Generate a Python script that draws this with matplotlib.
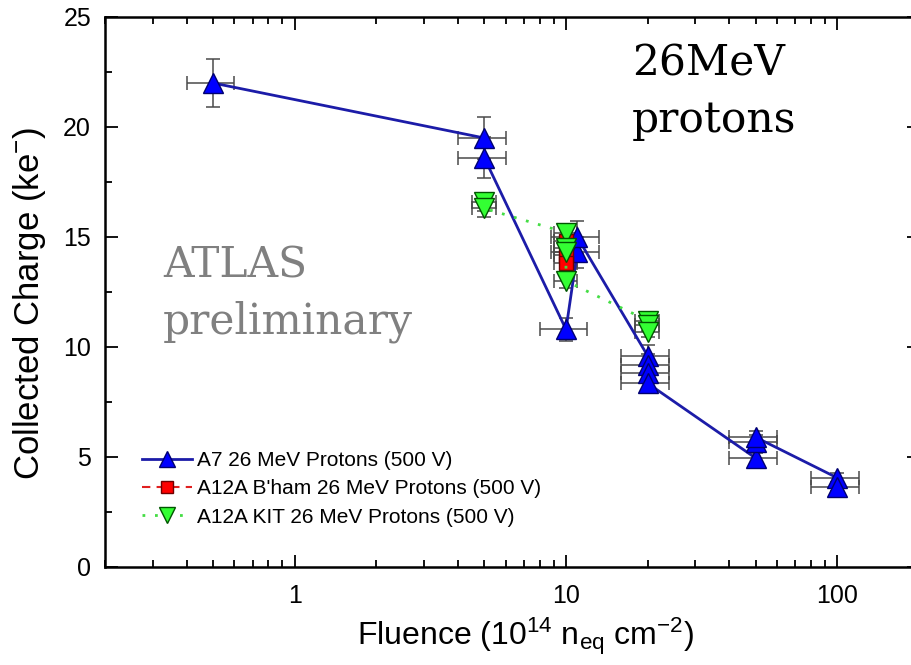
import numpy as np
import matplotlib
matplotlib.use("Agg")
import matplotlib.pyplot as plt
from matplotlib.ticker import MultipleLocator, LogLocator, NullFormatter, FixedLocator, FixedFormatter

plt.rcParams['font.family'] = ['Liberation Sans', 'DejaVu Sans']
plt.rcParams['mathtext.fontset'] = 'custom'
plt.rcParams['mathtext.rm'] = 'Liberation Sans'
plt.rcParams['mathtext.it'] = 'Liberation Sans:italic'

# A7 26 MeV protons (500 V)
a7_x = [0.5, 5, 5, 10, 11, 11, 20, 20, 20, 20, 50, 50, 50, 100, 100]
a7_y = [22.0, 19.5, 18.6, 10.8, 14.3, 15.0, 9.6, 9.2, 8.8, 8.35, 4.95, 5.7, 5.9, 4.05, 3.65]

# A12A B'ham 26 MeV protons (500 V)
bham_x = [10, 10, 10]
bham_y = [14.8, 14.2, 13.8]

# A12A KIT 26 MeV protons (500 V)
kit_x = [5, 5, 10, 10, 10, 10, 20, 20, 20]
kit_y = [16.6, 16.3, 15.2, 14.5, 14.3, 13.0, 11.2, 11.0, 10.7]

# relative uncertainties
a7_xerr_rel, a7_yerr_rel = 0.20, 0.05
bham_xerr_rel, bham_yerr_rel = 0.10, 0.04
kit_xerr_rel, kit_yerr_rel = 0.10, 0.025

fig = plt.figure(figsize=(9.12, 6.65), dpi=100)
ax = fig.add_axes([105 / 912, 1 - 567 / 665, (919 - 105) / 912, (567 - 17) / 665])

err_kw = dict(fmt='none', ecolor='#4a4a4a', elinewidth=1.1, capsize=5, capthick=1.1, zorder=1)
for xs, ys, rx, ry in [(a7_x, a7_y, a7_xerr_rel, a7_yerr_rel),
                       (bham_x, bham_y, bham_xerr_rel, bham_yerr_rel),
                       (kit_x, kit_y, kit_xerr_rel, kit_yerr_rel)]:
    xs = np.array(xs, dtype=float)
    ys = np.array(ys, dtype=float)
    ax.errorbar(xs, ys, xerr=xs * rx, yerr=ys * ry, **err_kw)

ax.plot(a7_x, a7_y, color='#1c1ca8', lw=2, marker='^', ms=14,
        mfc='#0000ff', mec='#000070', mew=1, zorder=3,
        label='A7 26 MeV Protons (500 V)')
ax.plot(bham_x, bham_y, color='#e02020', lw=1.5, ls=(0, (4, 3)), marker='s', ms=10,
        mfc='#ff0000', mec='#700000', mew=1, zorder=4,
        label="A12A B'ham 26 MeV Protons (500 V)")
ax.plot(kit_x, kit_y, color='#44dd44', lw=2, ls=(0, (1, 3.5)), marker='v', ms=14,
        mfc='#33ff33', mec='#005500', mew=1, zorder=5,
        label='A12A KIT 26 MeV Protons (500 V)')

ax.set_xscale('log')
ax.set_xlim(0.2, 200)
ax.set_ylim(0, 25)

ax.xaxis.set_major_locator(FixedLocator([1, 10, 100]))
ax.xaxis.set_major_formatter(FixedFormatter(['1', '10', '100']))
ax.xaxis.set_minor_locator(LogLocator(base=10, subs=np.arange(2, 10), numticks=20))
ax.xaxis.set_minor_formatter(NullFormatter())
ax.yaxis.set_major_locator(MultipleLocator(5))
ax.yaxis.set_minor_locator(MultipleLocator(2.5))

ax.tick_params(which='both', direction='in', top=True, right=True, width=1.3, labelsize=18)
ax.tick_params(which='major', length=9)
ax.tick_params(which='minor', length=5)
ax.tick_params(axis='y', pad=10)
ax.tick_params(axis='x', pad=12)
for s in ax.spines.values():
    s.set_linewidth(1.8)

ax.set_xlabel('Fluence (10$^{14}$ n$_{\\mathrm{eq}}$ cm$^{-2}$)', fontsize=23)
ax.xaxis.set_label_coords((525 - 105) / 814, -0.088)
ax.set_ylabel('Collected Charge (ke$^{-}$)', fontsize=25)
ax.yaxis.set_label_coords(-0.07, 0.48)

fig.text(632 / 912, 1 - 75 / 665, '26MeV', family='DejaVu Serif', fontsize=30.5, color='black')
fig.text(632 / 912, 1 - 132 / 665, 'protons', family='DejaVu Serif', fontsize=30.5, color='black')
fig.text(163 / 912, 1 - 278 / 665, 'ATLAS', family='DejaVu Serif', fontsize=30.5, color='#808080')
fig.text(163 / 912, 1 - 333 / 665, 'preliminary', family='DejaVu Serif', fontsize=30.5, color='#808080')

leg = ax.legend(loc='upper left', bbox_to_anchor=(142 / 912, 1 - 451 / 665),
                bbox_transform=fig.transFigure, frameon=False, fontsize=15,
                numpoints=1, handlelength=2.4, handletextpad=0.25, labelspacing=0.45,
                borderpad=0, borderaxespad=0, markerscale=0.8)

fig.savefig('out.png', dpi=100)
